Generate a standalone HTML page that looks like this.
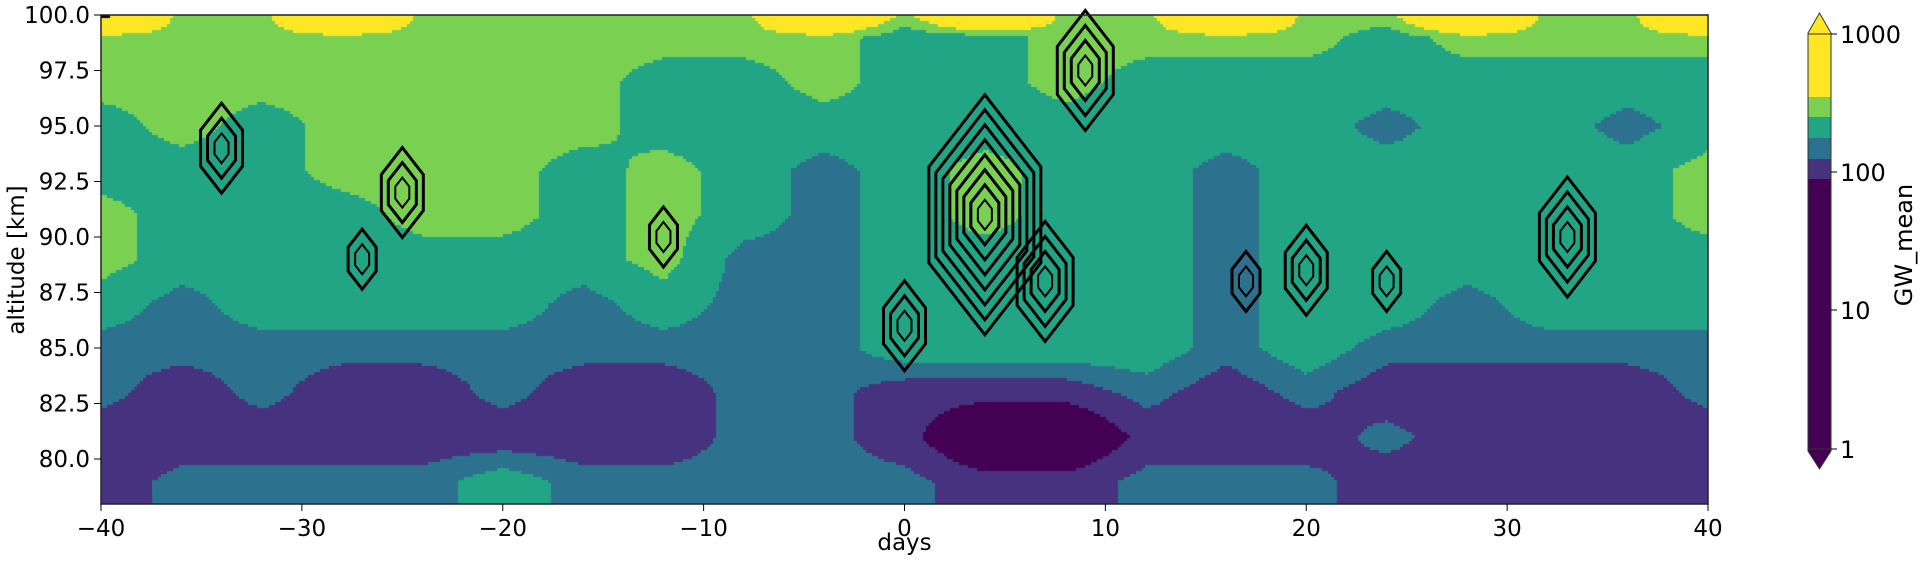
<!DOCTYPE html>
<html><head><meta charset="utf-8"><style>
body{margin:0;background:#fff;font-family:"DejaVu Sans","Liberation Sans",sans-serif;}
#wrap{position:relative;width:1926px;height:562px;overflow:hidden;}
canvas{position:absolute;}
</style></head><body>
<div id="wrap">
<canvas id="field" width="1607" height="489" style="left:101px;top:15px;"></canvas>
<svg id="ov" width="1926" height="562" style="position:absolute;left:0;top:0;font-family:'DejaVu Sans','Liberation Sans',sans-serif"></svg>
</div>
<script>
// data
const days=[-40,-36,-32,-28,-24,-20,-16,-12,-8,-4,0,4,8,12,16,20,24,28,32,36,40];
const alts=[100,99,97,95,93,91,89,87,85,83,81,79,78];
const codes=[
[5,4,4,5,4,4,4,4,4,5,4,5,4,4,5,4,4,5,4,4,5],
[4,4,4,4,4,4,4,4,4,4,3,3,4,4,4,4,3,4,4,4,4],
[4,4,4,4,4,4,4,3,3,4,3,3,4,3,3,3,3,3,3,3,3],
[3,4,3,4,4,4,4,3,3,3,3,3,3,3,3,3,2,3,3,2,3],
[3,3,3,4,4,4,3,4,3,2,3,4,3,3,2,3,3,3,3,3,4],
[4,3,3,3,4,4,3,4,3,2,3,4,3,3,2,3,3,3,3,3,4],
[4,3,3,3,3,3,3,4,2,2,3,3,3,3,2,3,3,3,3,3,3],
[3,2,3,3,3,3,2,3,2,2,3,3,3,3,2,3,3,2,3,3,3],
[2,2,2,2,2,2,2,2,2,2,3,3,3,3,2,3,2,2,2,2,2],
[2,1,2,1,1,2,1,1,2,2,1,1,1,2,1,2,1,1,1,1,2],
[1,1,1,1,1,1,1,1,2,2,1,0,0,1,1,1,2,1,1,1,1],
[1,2,2,2,2,3,2,2,2,2,2,1,1,2,2,2,1,1,1,1,1],
[1,2,2,2,2,3,2,2,2,2,2,1,1,2,2,2,1,1,1,1,1]];
const codeVals=[50,120,170,250,350,1200];
const levels=[100,150,200,300,400,1000];
const colors=['#440154','#46327e','#2c728e','#21a585','#7ad151','#fde725'];
const PL=101,PR=1708,PT=15,PB=504;
const X=d=>PL+(d+40)*(PR-PL)/80;
const Y=a=>459-(a-80)*(459-PT)/20;
// field
const cv=document.getElementById('field'),ctx=cv.getContext('2d');
const L=codes.map(r=>r.map(c=>Math.log(codeVals[c])));
function cls(v){let k=0;for(let i=0;i<levels.length;i++)if(v>=levels[i])k=i+1;return k;}
const S=3;
for(let py=0;py<489;py+=S)for(let px=0;px<1607;px+=S){
 const d=-40+(px+1)*80/1607, a=100-((py+PT+1)-Y(100))*20/(459-Y(100));
 let j=Math.min(19,Math.max(0,Math.floor((d+40)/4)));const fx=(d-days[j])/4;
 let i=0;while(i<alts.length-2&&a<alts[i+1])i++;
 const fy=Math.min(1,Math.max(0,(alts[i]-a)/(alts[i]-alts[i+1])));
 const v=L[i][j]*(1-fx)*(1-fy)+L[i][j+1]*fx*(1-fy)+L[i+1][j]*(1-fx)*fy+L[i+1][j+1]*fx*fy;
 ctx.fillStyle=colors[cls(Math.exp(v))];ctx.fillRect(px,py,S,S);
}
// contour-like rings
const ringCx=[4,9,-34,-25,7,0,33,20,-12,-27,24,17];
const ringCy=[91,97.5,94,92,88,86,90,88.5,90,89,88,88];
const ringN=[8,4,3,3,4,3,4,3,2,2,2,2];
const svg=document.getElementById('ov');let h='';
for(let k=0;k<ringCx.length;k++)for(let n=1;n<=ringN[k];n++){
 const cx=X(ringCx[k]),cy=Y(ringCy[k]),rx=n*7,ry=n*15;
 h+=`<polygon points="${cx},${cy-ry} ${cx+rx},${cy-ry*0.4} ${cx+rx},${cy+ry*0.4} ${cx},${cy+ry} ${cx-rx},${cy+ry*0.4} ${cx-rx},${cy-ry*0.4}" fill="none" stroke="#000" stroke-width="${n>1?3:2}"/>`;}
h+=`<rect x="${PL}" y="${PT}" width="${PR-PL}" height="${PB-PT}" fill="none" stroke="#222" stroke-width="1.5"/>`;
const xt=[-40,-30,-20,-10,0,10,20,30,40];
xt.forEach(v=>{h+=`<line x1="${X(v)}" x2="${X(v)}" y1="${PB}" y2="${PB+7}" stroke="#000"/><text x="${X(v)}" y="${PB+32}" font-size="23" text-anchor="middle">${v<0?'\u2212'+(-v):v}</text>`;});
const yt=[80,82.5,85,87.5,90,92.5,95,97.5,100];
yt.forEach(v=>{h+=`<line x1="${PL-7}" x2="${PL}" y1="${Y(v)}" y2="${Y(v)}" stroke="#000"/><text x="${PL-11}" y="${Y(v)+8}" font-size="23" text-anchor="end">${v.toFixed(1)}</text>`;});
h+=`<text x="${(PL+PR)/2}" y="550" font-size="23" text-anchor="middle">days</text>`;
h+=`<text transform="translate(24,260) rotate(-90)" font-size="23" text-anchor="middle">altitude [km]</text>`;
// colorbar
const cbY=[34,97,117,138,159,179,449];
const cbC=['#fde725','#7ad151','#21a585','#2c728e','#46327e','#440154'];
for(let k=0;k<6;k++)h+=`<rect x="1808" y="${cbY[k]}" width="23" height="${cbY[k+1]-cbY[k]}" fill="${cbC[k]}"/>`;
h+=`<polygon points="1808,34 1831,34 1831,33 1819.5,13 1808,33" fill="#fde725" stroke="#333"/>`;
h+=`<polygon points="1808,449 1831,449 1831,451 1819.5,469 1808,451" fill="#440154" stroke="#333"/>`;
h+=`<line x1="1808" x2="1808" y1="34" y2="449" stroke="#333"/><line x1="1831" x2="1831" y1="34" y2="449" stroke="#333"/>`;
const cbT=[['1000',34],['100',172],['10',310],['1',449]];
cbT.forEach(t=>{h+=`<line x1="1831" x2="1837" y1="${t[1]}" y2="${t[1]}" stroke="#000"/><text x="1840" y="${t[1]+9}" font-size="24">${t[0]}</text>`;});
h+=`<text transform="translate(1912,245) rotate(-90)" font-size="24" text-anchor="middle">GW_mean</text>`;
svg.innerHTML=h;
</script>
</body></html>
